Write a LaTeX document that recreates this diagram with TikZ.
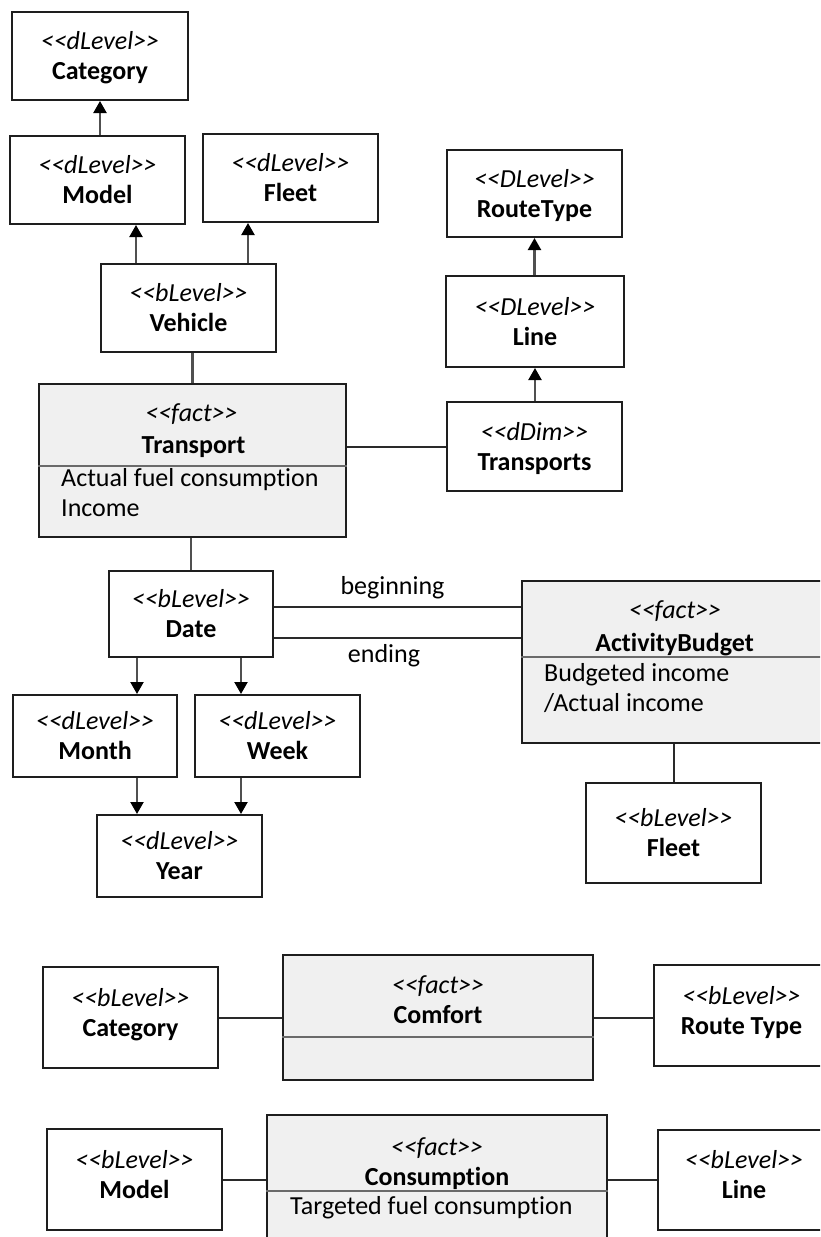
\documentclass[tikz,border=0pt]{standalone}
\usepackage{fontspec}
\setmainfont{Carlito}[Ligatures=NoCommon]
\usetikzlibrary{arrows.meta}
\definecolor{bordercol}{HTML}{1E1E1E}
\definecolor{conncol}{HTML}{505050}
\definecolor{relcol}{HTML}{2A2A2A}
\definecolor{factfill}{HTML}{F0F0F0}
\definecolor{sepcol}{HTML}{6A6A6A}
\newcommand\stt[1]{\textit{<\kern0pt<#1>\kern0pt>}}
\newcommand\bx[2]{\rule{0pt}{24pt}\stt{#1}\\\textbf{#2}\rule[-7pt]{0pt}{7pt}}
\newcommand\bxup[2]{\rule{0pt}{24pt}\stt{#1}\\\textbf{#2}\rule[-17pt]{0pt}{17pt}}
\tikzset{
  every node/.style={font=\fontsize{26pt}{30pt}\selectfont},
  box/.style={draw=bordercol, line width=2pt, fill=white, inner sep=0pt, align=center,
              minimum width=175pt, minimum height=88pt},
  factbox/.style={box, fill=factfill},
  txt/.style={inner sep=0pt, text height=17pt, text depth=0pt},
  attr/.style={txt, anchor=west},
  conn/.style={draw=conncol, line width=2.2pt},
  arr/.style={conn, -{Triangle[width=13pt,length=12pt,color=black,fill=black]}},
  rel/.style={draw=relcol, line width=2pt},
  sepline/.style={draw=sepcol, line width=2.4pt}
}
\begin{document}
\begin{tikzpicture}[x=1pt,y=-1pt]
\useasboundingbox (0,0) rectangle (820,1237);
\clip (0,0) rectangle (820,1237);

% upper left hierarchy
\node[box, minimum width=176pt] (catD) at (100,56) {\bx{dLevel}{Category}};
\node[box] (modelD) at (97.5,180) {\bx{dLevel}{Model}};
\node[box] (fleetD) at (290.5,178) {\bx{dLevel}{Fleet}};
\node[box] (vehicle) at (188.5,308) {\bx{bLevel}{Vehicle}};

% right hierarchy
\node[box, minimum height=87pt] (routeT) at (534.5,193.5) {\bx{DLevel}{RouteType}};
\node[box, minimum width=178pt, minimum height=91pt] (lineD) at (535,321.5) {\bx{DLevel}{Line}};
\node[box, minimum height=89pt] (transports) at (534.5,446.5) {\bx{dDim}{Transports}};

% Transport fact
\node[factbox, minimum width=307pt, minimum height=153pt] (transport) at (192.5,460.5) {};
\draw[sepline] ([yshift=-5.5pt]transport.west) -- ([yshift=-5.5pt]transport.east);
\node[txt] (transportS) at (191.5,413) {\stt{fact}};
\node[txt] (transportN) at (193.5,445) {\textbf{Transport}};
\node[attr] (transportA1) at (61,478) {Actual fuel consumption};
\node[attr] (transportA2) at (61,508) {Income};

% time hierarchy
\node[box, minimum width=164pt, minimum height=86pt] (date) at (191,614) {\bx{bLevel}{Date}};
\node[box, minimum width=164pt, minimum height=82pt] (month) at (95,736) {\bx{dLevel}{Month}};
\node[box, minimum width=165pt, minimum height=82pt] (week) at (277.5,736) {\bx{dLevel}{Week}};
\node[box, minimum width=165pt, minimum height=82pt] (year) at (179.5,856) {\bx{dLevel}{Year}};

% ActivityBudget fact
\node[factbox, minimum width=320pt, minimum height=162pt] (ab) at (682,662) {};
\draw[sepline] ([yshift=5pt]ab.west) -- ([yshift=5pt]ab.east);
\node[txt] (abS) at (675,610) {\stt{fact}};
\node[txt] (abN) at (674.5,643) {\textbf{ActivityBudget}};
\node[attr] (abA1) at (544,673) {Budgeted income};
\node[attr] (abA2) at (544,703) {/Actual income};
\node[box, minimum height=100pt] (fleetB) at (673.5,833) {\bx{bLevel}{Fleet}};

% Comfort
\node[box, minimum height=101pt] (catB) at (130.5,1017.5) {\bxup{bLevel}{Category}};
\node[factbox, minimum width=310pt, minimum height=125pt] (comfort) at (438,1017.5) {};
\draw[sepline] ([yshift=-19.5pt]comfort.west) -- ([yshift=-19.5pt]comfort.east);
\node[txt] (comfortS) at (438,985) {\stt{fact}};
\node[txt] (comfortN) at (438,1015) {\textbf{Comfort}};
\node[box, minimum height=101pt] (routeB) at (741.5,1015.5) {\bxup{bLevel}{Route Type}};

% Consumption
\node[box, minimum height=101pt] (modelB) at (134.5,1179.5) {\bxup{bLevel}{Model}};
\node[factbox, minimum width=340pt, minimum height=147pt] (consumption) at (437,1188.5) {};
\draw[sepline] ([yshift=-2.5pt]consumption.west) -- ([yshift=-2.5pt]consumption.east);
\node[txt] (consS) at (437,1147) {\stt{fact}};
\node[txt] (consN) at (437,1177) {\textbf{Consumption}};
\node[attr] (consA1) at (290,1206) {Targeted fuel consumption};
\node[box, minimum width=172pt, minimum height=100pt] (lineB) at (744,1179.5) {\bxup{bLevel}{Line}};

% connectors: upper left
\draw[arr] (catD.south |- modelD.north) -- (catD.south);
\draw[arr] ([xshift=-52.5pt]vehicle.north) -- ([xshift=-52.5pt]vehicle.north |- modelD.south);
\draw[arr] ([xshift=59.5pt]vehicle.north) -- ([xshift=59.5pt]vehicle.north |- fleetD.south);
\draw[conn] (transport.north |- vehicle.south) -- (transport.north);

% connectors: right
\draw[arr] (lineD.south |- transports.north) -- (lineD.south);
\draw[arr] (routeT.south |- lineD.north) -- (routeT.south);
\draw[rel] (transport.east |- transports.west) -- (transports.west);

% connectors: time
\draw[conn] (transport.south -| date.north) -- (date.north);
\draw[arr] ([xshift=-54pt]date.south) -- ([xshift=-54pt]date.south |- month.north);
\draw[arr] ([xshift=50pt]date.south) -- ([xshift=50pt]date.south |- week.north);
\draw[arr] ([xshift=42pt]month.south) -- ([xshift=42pt]month.south |- year.north);
\draw[arr] ([xshift=-36.5pt]week.south) -- ([xshift=-36.5pt]week.south |- year.north);

% Date -- ActivityBudget
\draw[rel] ([yshift=7pt]date.east) -- ([yshift=7pt]date.east -| ab.west);
\draw[rel] ([yshift=-24pt]date.east) -- ([yshift=-24pt]date.east -| ab.west);
\node[txt] (begL) at (392.5,586) {beginning};
\node[txt] (endL) at (384,654) {ending};
\draw[rel] (ab.south -| fleetB.north) -- (fleetB.north);

% bottom connectors
\draw[rel] (catB.east) -- (catB.east -| comfort.west);
\draw[rel] (comfort.east) -- (comfort.east -| routeB.west);
\draw[rel] (modelB.east) -- (modelB.east -| consumption.west);
\draw[rel] (lineB.west -| consumption.east) -- (lineB.west);
\end{tikzpicture}
\end{document}
